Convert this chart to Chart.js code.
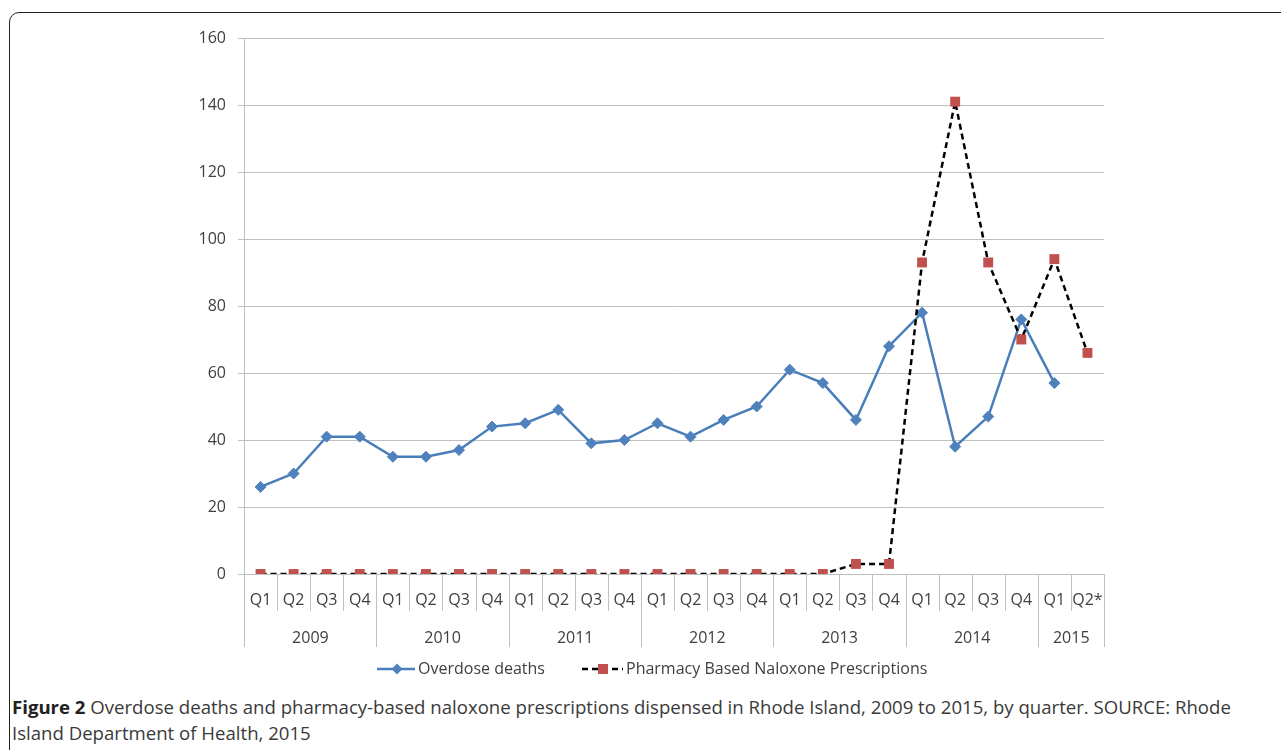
<!DOCTYPE html>
<html><head><meta charset="utf-8">
<script src="https://cdn.jsdelivr.net/npm/chart.js@4/dist/chart.umd.min.js"></script>
<style>
html,body{margin:0;padding:0;background:#fff;width:1281px;height:750px;overflow:hidden;position:relative;}
#frame{position:absolute;left:9px;top:12px;width:1310px;height:780px;border:1.6px solid #222;border-radius:10px;box-sizing:border-box;}
#wrap{position:absolute;left:0;top:0;width:1281px;height:690px;}
#caption{position:absolute;left:12px;top:694px;font-family:"Open Sans",sans-serif;font-size:18.6px;line-height:26px;color:#3a3a3a;white-space:nowrap;}
#caption b{color:#222;}
</style></head>
<body>
<div id="frame"></div>
<div id="wrap"><canvas id="c" width="1281" height="690"></canvas></div>
<div id="caption"><b>Figure 2</b> Overdose deaths and pharmacy-based naloxone prescriptions dispensed in Rhode Island, 2009 to 2015, by quarter. SOURCE: Rhode<br>Island Department of Health, 2015</div>
<script>
const quarters = ['Q1','Q2','Q3','Q4','Q1','Q2','Q3','Q4','Q1','Q2','Q3','Q4','Q1','Q2','Q3','Q4','Q1','Q2','Q3','Q4','Q1','Q2','Q3','Q4','Q1','Q2*'];
const years = ['2009','2010','2011','2012','2013','2014','2015'];
const quartersPerYear = [4,4,4,4,4,4,2];
const overdoseDeaths = [26,30,41,41, 35,35,37,44, 45,49,39,40, 45,41,46,50, 61,57,46,68, 78,38,47,76, 57,null];
const naloxoneRx = [0,0,0,0, 0,0,0,0, 0,0,0,0, 0,0,0,0, 0,0,3,3, 93,141,93,70, 94,66];
const yTicks = [0,20,40,60,80,100,120,140,160];

const GRID = '#c0c0c0';
const TXT = '#404040';
const FONT = '"Open Sans", sans-serif';

const groupPlugin = {
  id: 'groups',
  afterDraw(chart) {
    const ctx = chart.ctx;
    const xs = chart.scales.x;
    const bottom = chart.chartArea.bottom;
    const w = xs.getPixelForValue(1) - xs.getPixelForValue(0);
    ctx.save();
    ctx.strokeStyle = GRID;
    ctx.lineWidth = 1;
    for (let i = 0; i <= quarters.length; i++) {
      const x = Math.round(xs.getPixelForValue(Math.min(i, quarters.length - 1)) + (i === quarters.length ? w / 2 : -w / 2)) + 0.5;
      ctx.beginPath(); ctx.moveTo(x, bottom); ctx.lineTo(x, bottom + 37); ctx.stroke();
    }
    let idx = 0;
    ctx.fillStyle = TXT;
    ctx.font = '16px ' + FONT;
    ctx.textAlign = 'center';
    ctx.textBaseline = 'middle';
    for (let g = 0; g <= years.length; g++) {
      const x0 = Math.round(xs.getPixelForValue(Math.min(idx, quarters.length - 1)) + (idx >= quarters.length ? w / 2 : -w / 2)) + 0.5;
      ctx.beginPath(); ctx.moveTo(x0, bottom); ctx.lineTo(x0, bottom + 73); ctx.stroke();
      if (g < years.length) {
        const x1 = xs.getPixelForValue(idx + quartersPerYear[g] - 1) + w / 2;
        ctx.fillText(years[g], (x0 + x1) / 2, bottom + 64);
        idx += quartersPerYear[g];
      }
    }
    // legend
    const ly = 669;
    const ds = chart.data.datasets;
    ctx.textAlign = 'left';
    ctx.font = '16px ' + FONT;
    ctx.strokeStyle = ds[0].borderColor; ctx.lineWidth = 2.5; ctx.setLineDash([]);
    ctx.beginPath(); ctx.moveTo(377, ly); ctx.lineTo(415, ly); ctx.stroke();
    ctx.fillStyle = ds[0].pointBackgroundColor;
    ctx.beginPath(); ctx.moveTo(397, ly - 5.5); ctx.lineTo(402.5, ly); ctx.lineTo(397, ly + 5.5); ctx.lineTo(391.5, ly); ctx.closePath(); ctx.fill();
    ctx.fillStyle = TXT;
    ctx.fillText(ds[0].label, 418, ly);
    ctx.strokeStyle = ds[1].borderColor; ctx.lineWidth = 2.5; ctx.setLineDash(ds[1].borderDash);
    ctx.beginPath(); ctx.moveTo(582, ly); ctx.lineTo(623, ly); ctx.stroke();
    ctx.setLineDash([]);
    ctx.fillStyle = ds[1].pointBackgroundColor;
    ctx.fillRect(598, ly - 5, 10, 10);
    ctx.fillStyle = TXT;
    ctx.fillText(ds[1].label, 626, ly);
    ctx.restore();
  }
};

new Chart(document.getElementById('c'), {
  type: 'line',
  data: {
    labels: quarters,
    datasets: [
      {
        label: 'Overdose deaths',
        data: overdoseDeaths,
        borderColor: '#4a7ebb',
        backgroundColor: '#4f81bd',
        pointBackgroundColor: '#4f81bd',
        pointBorderColor: '#4f81bd',
        pointStyle: 'rectRot',
        pointRadius: 5.5,
        pointBorderWidth: 1,
        borderWidth: 2.5,
        tension: 0,
        spanGaps: false,
        order: 1
      },
      {
        label: 'Pharmacy Based Naloxone Prescriptions',
        data: naloxoneRx,
        borderColor: '#000000',
        borderDash: [6, 4],
        borderWidth: 2.5,
        backgroundColor: '#c0504d',
        pointBackgroundColor: '#c0504d',
        pointBorderColor: '#c0504d',
        pointStyle: 'rect',
        pointRadius: 7,
        pointBorderWidth: 0,
        tension: 0,
        order: 0
      }
    ]
  },
  options: {
    responsive: false,
    animation: false,
    events: [],
    layout: { padding: { left: 0, top: 38, right: 177, bottom: 36 } },
    plugins: { legend: { display: false }, tooltip: { enabled: false }, title: { display: false } },
    scales: {
      x: {
        type: 'category',
        offset: true,
        grid: { display: false, drawTicks: false },
        border: { display: true, color: GRID, width: 1 },
        ticks: { autoSkip: false, maxRotation: 0, minRotation: 0, padding: 17, color: TXT, font: { family: FONT, size: 16 } },
        afterFit(scale) { scale.height = 80; }
      },
      y: {
        min: 0, max: 160,
        afterBuildTicks(scale) { scale.ticks = yTicks.map(v => ({ value: v })); },
        grid: { color: GRID, lineWidth: 1, tickLength: 6, drawTicks: true },
        border: { display: true, color: GRID, width: 1 },
        ticks: { padding: 12, color: TXT, font: { family: FONT, size: 16 } },
        afterFit(scale) { scale.width = 244; }
      }
    }
  },
  plugins: [groupPlugin]
});
</script>
</body></html>
